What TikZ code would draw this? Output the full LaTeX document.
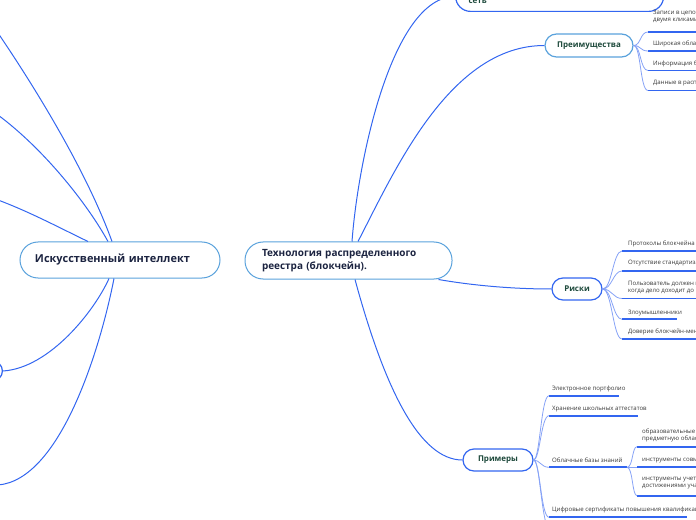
\documentclass[tikz,border=0pt]{standalone}
\usepackage{fontspec}
\setmainfont{Open Sans}
\definecolor{lineblue}{HTML}{3366F0}
\definecolor{fanblue}{HTML}{86A2F6}
\definecolor{topborder}{HTML}{5AA2DC}
\definecolor{navy}{HTML}{1B2340}
\definecolor{dgreen}{HTML}{1E4A3C}
\definecolor{leafgray}{HTML}{3A3A3A}
\begin{document}
\begin{tikzpicture}[x=1bp,y=-1bp,
  topic/.style={draw=topborder, line width=1bp, fill=white, rounded corners=18bp,
    font=\fontsize{11}{13}\selectfont\bfseries, text=navy, align=left, inner ysep=0pt},
  sub/.style={draw=lineblue, line width=1.2bp, fill=white, inner sep=0pt,
    font=\fontsize{8}{10}\selectfont\bfseries, text=dgreen},
  leaf/.style={anchor=west, font=\fontsize{6.1}{7.5}\selectfont, text=leafgray, inner sep=0pt, align=left},
  conn/.style={draw=lineblue, line width=1bp},
  fan/.style={draw=fanblue, line width=0.8bp},
  uline/.style={draw=lineblue, line width=1.8bp}]
\useasboundingbox (0,0) rectangle (696,520);
\clip (0,0) rectangle (696,520);

% ---------- main nodes ----------
\node[topic, minimum width=200bp, minimum height=36bp, text width=170bp, inner xsep=15bp] (ai) at (120,260) {Искусственный интеллект};
\node[topic, font=\fontsize{10}{12.7}\selectfont\bfseries, minimum width=207bp, minimum height=37bp, text width=173bp, inner xsep=17bp] (bc) at (348.5,260.5) {Технология распределенного\\реестра (блокчейн).};
\node[sub, rounded corners=15bp, minimum width=208bp, minimum height=30bp, text width=182bp, inner xsep=13bp, align=left, text height=15bp, text depth=0pt, anchor=south west] (net) at (455,12) {сеть};
\node[sub, draw=topborder, rounded corners=11.5bp, minimum width=88bp, minimum height=23bp] (adv) at (589,45.5) {Преимущества};
\node[sub, rounded corners=11bp, minimum width=50bp, minimum height=22bp] (risk) at (577,289) {Риски};
\node[sub, rounded corners=11bp, minimum width=70bp, minimum height=22bp] (ex) at (498,460) {Примеры};
\node[sub, rounded corners=10bp, minimum width=60bp, minimum height=20bp, anchor=east] (lnode) at (3,371) {};

% ---------- connectors of the left topic ----------
\coordinate (l1) at (-2,33);
\coordinate (l2) at (-2,115);
\coordinate (l3) at (-2,200);
\coordinate (l5) at (-2,485);
\draw[conn] ([xshift=-8bp]ai.north) .. controls (88,175) and (40,95) .. (l1);
\draw[conn] ([xshift=-12bp]ai.north) .. controls (88,205) and (45,150) .. (l2);
\draw[conn] ([xshift=-32bp]ai.north) .. controls (60,228) and (30,212) .. (l3);
\draw[conn] ([xshift=-11bp]ai.south) .. controls (95,310) and (50,368) .. (lnode.east);
\draw[conn] ([xshift=-6bp]ai.south) .. controls (100,350) and (60,480) .. (l5);

% ---------- connectors of the central topic ----------
\draw[conn] ([xshift=3.5bp]bc.north) .. controls (358,160) and (392,-3) .. (net.west);
\draw[conn] ([xshift=9.5bp]bc.north) .. controls (395,170) and (450,45.5) .. (adv.west);
\draw[conn] ([xshift=-14bp]bc.south east) .. controls (470,285) and (510,289) .. (risk.west);
\draw[conn] ([xshift=6.5bp]bc.south) .. controls (385,390) and (420,460) .. (ex.west);

% ---------- Преимущества ----------
\node[leaf] (a1) at (653,16.5) {Записи в цепочке\\двумя кликами};
\node[leaf] (a2) at (653,44.3) {Широкая область};
\node[leaf] (a3) at (653,64) {Информация без};
\node[leaf] (a4) at (653,83.3) {Данные в распределенной};
\foreach \n/\y in {a1/32, a2/51, a3/70.5, a4/90.5}{
  \coordinate (\n s) at (648,\y);
  \coordinate (\n e) at (700,\y);
  \draw[uline] (\n s) -- (\n e);
  \draw[fan] (adv.east) .. controls (641,45.5) and (640,\y) .. (\n s);
}

% ---------- Риски ----------
\node[leaf] (r1) at (628,244) {Протоколы блокчейна ещё};
\node[leaf] (r2) at (628,263.5) {Отсутствие стандартизации};
\node[leaf] (r3) at (628,287.3) {Пользователь должен нести\\когда дело доходит до};
\node[leaf] (r4) at (628,312.7) {Злоумышленники};
\node[leaf] (r5) at (628,332) {Доверие блокчейн-менеджерам};
\foreach \n/\y/\e in {r1/251/700, r2/271/700, r3/298.5/700, r4/319.3/676.7, r5/339/700}{
  \coordinate (\n s) at (622,\y);
  \coordinate (\n e) at (\e,\y);
  \draw[uline] (\n s) -- (\n e);
  \draw[fan] (risk.east) .. controls (612,289) and (613,\y) .. (\n s);
}

% ---------- Примеры ----------
\node[leaf] (e1) at (552,389) {Электронное портфолио};
\node[leaf] (e2) at (552,409) {Хранение школьных аттестатов};
\node[leaf] (e3) at (552,460) {Облачные базы знаний};
\node[leaf] (e4) at (552,510) {Цифровые сертификаты повышения квалификации};
\foreach \n/\y/\e in {e1/395.7/619, e2/415.7/638, e3/467.3/627, e4/517.3/687}{
  \coordinate (\n s) at (549,\y);
  \coordinate (\n e) at (\e,\y);
  \draw[uline] (\n s) -- (\n e);
  \draw[fan] (ex.east) .. controls (540,460) and (541,\y) .. (\n s);
}
\coordinate (e5s) at (549,530);
\draw[fan] (ex.east) .. controls (540,460) and (541,520) .. (e5s);

\node[leaf] (c1) at (642,435.5) {образовательные\\предметную область};
\node[leaf] (c2) at (642,460) {инструменты совместной};
\node[leaf] (c3) at (642,483.3) {инструменты учета\\достижениями учащихся};
\foreach \n/\y in {c1/446.7, c2/467.3, c3/495.7}{
  \coordinate (\n s) at (637,\y);
  \coordinate (\n e) at (700,\y);
  \draw[uline] (\n s) -- (\n e);
  \draw[fan] (e3e) .. controls (633,467.3) and (632,\y) .. (\n s);
}
\end{tikzpicture}
\end{document}
